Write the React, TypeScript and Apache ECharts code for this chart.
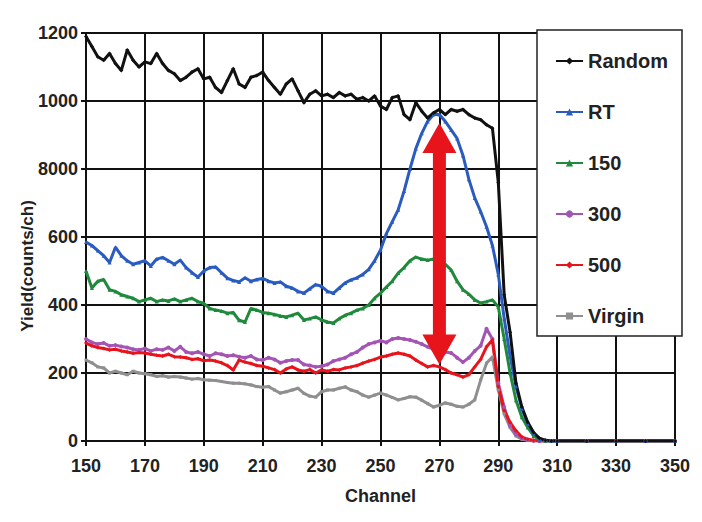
import React, { useEffect, useRef } from "react";
import * as echarts from "echarts";

const channels = [
  150, 152, 154, 156, 158, 160, 162, 164, 166, 168, 170, 172, 174, 176, 178, 180, 182, 184, 186, 188,
  190, 192, 194, 196, 198, 200, 202, 204, 206, 208, 210, 212, 214, 216, 218, 220, 222, 224, 226, 228,
  230, 232, 234, 236, 238, 240, 242, 244, 246, 248, 250, 252, 254, 256, 258, 260, 262, 264, 266, 268,
  270, 272, 274, 276, 278, 280, 282, 284, 286, 288, 290, 292, 294, 296, 298, 300, 302, 304, 306, 308,
  310, 320, 330, 340, 350,
];

const randomYield = [
  1190, 1160, 1130, 1120, 1140, 1110, 1090, 1150, 1120, 1100, 1115, 1110, 1140, 1110, 1090, 1080, 1060, 1070, 1085, 1095,
  1065, 1070, 1040, 1025, 1060, 1095, 1050, 1040, 1070, 1075, 1085, 1060, 1040, 1020, 1050, 1065, 1030, 995, 1020, 1030,
  1015, 1020, 1010, 1025, 1015, 1020, 1005, 1010, 1000, 1015, 985, 975, 1010, 1015, 960, 945, 995, 970, 950, 965,
  975, 960, 975, 970, 975, 960, 950, 945, 930, 920, 760, 430, 320, 170, 100, 55, 25, 8, 2, 0,
  0, 0, 0, 0, 0,
];

const rtYield = [
  585, 575, 560, 545, 525, 570, 545, 530, 520, 525, 530, 515, 535, 540, 530, 520, 532, 510, 495, 482,
  500, 510, 512, 495, 479, 472, 468, 480, 470, 475, 478, 470, 465, 468, 455, 450, 440, 435, 448, 460,
  455, 440, 435, 450, 465, 474, 480, 490, 505, 530, 562, 610, 645, 680, 735, 800, 860, 905, 940, 960,
  960, 940, 915, 890, 840, 770, 715, 675, 630, 575, 490, 360, 250, 160, 95, 50, 22, 6, 2, 0,
  0, 0, 0, 0, 0,
];

const yield150 = [
  500, 450, 470, 475, 445, 440, 430, 425, 420, 410, 415, 420, 410, 415, 412, 418, 410, 415, 420, 410,
  405, 390, 385, 382, 376, 378, 355, 350, 390, 385, 378, 376, 372, 368, 365, 370, 376, 356, 360, 365,
  356, 350, 347, 360, 370, 376, 385, 390, 400, 420, 435, 453, 470, 494, 510, 530, 541, 535, 532, 535,
  530, 520, 503, 470, 445, 432, 415, 406, 410, 415, 394, 300, 200, 120, 70, 40, 15, 4, 1, 0,
  0, 0, 0, 0, 0,
];

const yield300 = [
  300, 290, 285, 288, 280, 282, 278, 275, 270, 268, 272, 265, 270, 268, 275, 265, 277, 262, 258, 262,
  255, 250, 258, 255, 250, 252, 248, 245, 250, 240, 238, 245, 240, 230, 235, 238, 238, 225, 222, 218,
  220, 225, 235, 240, 245, 255, 262, 275, 285, 290, 295, 290, 300, 303, 300, 297, 292, 285, 277, 270,
  265, 262, 259, 245, 232, 245, 265, 280, 330, 300, 170, 100, 45, 20, 8, 3, 1, 0, 0, 0,
  0, 0, 0, 0, 0,
];

const yield500 = [
  288, 280, 275, 272, 268, 270, 265, 262, 258, 260, 259, 255, 252, 250, 255, 248, 247, 245, 240, 242,
  236, 238, 235, 230, 222, 209, 238, 232, 228, 222, 220, 215, 210, 200, 212, 218, 209, 205, 210, 200,
  209, 205, 210, 209, 215, 218, 222, 229, 235, 240, 247, 250, 255, 259, 255, 250, 238, 228, 218, 222,
  218, 210, 200, 195, 188, 195, 218, 240, 277, 297, 160, 90, 55, 30, 12, 5, 2, 0, 0, 0,
  0, 0, 0, 0, 0,
];

const virginYield = [
  238, 230, 218, 215, 200, 205, 200, 195, 205, 200, 198, 195, 190, 192, 188, 190, 188, 185, 182, 184,
  180, 179, 178, 175, 172, 170, 170, 168, 165, 160, 158, 160, 150, 141, 145, 150, 155, 140, 132, 129,
  145, 150, 150, 155, 159, 150, 145, 135, 129, 135, 141, 135, 128, 121, 125, 130, 129, 120, 110, 100,
  105, 112, 108, 102, 100, 108, 121, 179, 229, 247, 150, 80, 40, 15, 5, 2, 0, 0, 0, 0,
  0, 0, 0, 0, 0,
];

const xTicks = [150, 170, 190, 210, 230, 250, 270, 290, 310, 330, 350];
const yTickLabels = ["0", "200", "400", "600", "8000", "1000", "1200"];

const arrowChannel = [270];
const arrowTop = [935];
const arrowBottom = [225];

const seriesNames = ["Random", "RT", "150", "300", "500", "Virgin"];
const seriesColors = ["#111111", "#2a5cc0", "#1f8a3c", "#a455b4", "#e8141c", "#8f8f8f"];
const seriesSymbols = ["diamond", "triangle", "triangle", "circle", "diamond", "rect"];
const seriesValues = [randomYield, rtYield, yield150, yield300, yield500, virginYield];
const drawOrder = [5, 3, 4, 2, 1, 0];

const FONT = "'Liberation Sans', Arial, sans-serif";

export default function App() {
  const ref = useRef<HTMLDivElement>(null);

  useEffect(() => {
    if (!ref.current) return;
    const chart = echarts.init(ref.current, undefined, { renderer: "svg" });

    const lineSeries = drawOrder.map((i) => ({
      name: seriesNames[i],
      type: "line",
      data: channels.map((c, k) => [c, seriesValues[i][k]]),
      showSymbol: true,
      symbol: seriesSymbols[i],
      symbolSize: i === 5 ? 3 : 4,
      color: seriesColors[i],
      lineStyle: { width: 3, color: seriesColors[i] },
      itemStyle: { color: seriesColors[i] },
      z: 3,
    }));

    const arrowSeries = {
      type: "custom",
      silent: true,
      z: 8,
      data: arrowChannel.map((c, k) => [c, arrowTop[k], arrowBottom[k]]),
      renderItem: (params: any, api: any) => {
        const top = api.coord([api.value(0), api.value(1)]);
        const bot = api.coord([api.value(0), api.value(2)]);
        const cx = top[0];
        const headH = 30;
        const headW = 17;
        const shaftW = 6.5;
        const pts = [
          [cx, top[1]],
          [cx + headW, top[1] + headH],
          [cx + shaftW, top[1] + headH],
          [cx + shaftW, bot[1] - headH],
          [cx + headW, bot[1] - headH],
          [cx, bot[1]],
          [cx - headW, bot[1] - headH],
          [cx - shaftW, bot[1] - headH],
          [cx - shaftW, top[1] + headH],
          [cx - headW, top[1] + headH],
        ];
        return {
          type: "polygon",
          shape: { points: pts },
          style: { fill: "#e8141c" },
        };
      },
    };

    chart.setOption({
      animation: false,
      backgroundColor: "#ffffff",
      grid: { left: 86, right: 27, top: 33, bottom: 81, containLabel: false },
      xAxis: {
        type: "value",
        min: 150,
        max: 350,
        interval: 20,
        name: "Channel",
        nameLocation: "middle",
        nameGap: 46,
        nameTextStyle: { fontFamily: FONT, fontSize: 18, fontWeight: "bold", color: "#222" },
        axisLine: { show: true, onZero: false, lineStyle: { color: "#111", width: 2 } },
        axisTick: { show: true, inside: false, length: 5, lineStyle: { color: "#111", width: 2 } },
        axisLabel: {
          margin: 16,
          fontFamily: FONT,
          fontSize: 18,
          fontWeight: "bold",
          color: "#222",
          formatter: (v: number) => (xTicks.includes(v) ? String(v) : ""),
        },
        splitLine: { show: true, lineStyle: { color: "#111", width: 2 } },
      },
      yAxis: {
        type: "value",
        min: 0,
        max: 1200,
        interval: 200,
        axisLine: { show: true, lineStyle: { color: "#111", width: 2 } },
        axisTick: { show: true, inside: false, length: 5, lineStyle: { color: "#111", width: 2 } },
        axisLabel: {
          margin: 8,
          fontFamily: FONT,
          fontSize: 18,
          fontWeight: "bold",
          color: "#222",
          formatter: (v: number) => yTickLabels[Math.round(v / 200)] ?? "",
        },
        splitLine: { show: true, lineStyle: { color: "#111", width: 2 } },
      },
      legend: {
        data: seriesNames,
        orient: "vertical",
        left: 537,
        top: 30,
        backgroundColor: "#ffffff",
        borderColor: "#222",
        borderWidth: 1.5,
        borderRadius: 0,
        padding: [20, 14, 9, 18],
        itemGap: 29,
        itemWidth: 27,
        itemHeight: 9,
        z: 20,
        textStyle: {
          fontFamily: FONT,
          fontSize: 20,
          fontWeight: "bold",
          color: "#222",
          lineHeight: 22,
        },
      },
      graphic: [
        {
          type: "rect",
          shape: { x: 6, y: 3, width: 691, height: 515 },
          style: { fill: "none", stroke: "#444", lineWidth: 2 },
          silent: true,
          z: 30,
        },
        {
          type: "text",
          x: 27,
          y: 266,
          rotation: Math.PI / 2,
          style: {
            text: "Yield(counts/ch)",
            fontFamily: FONT,
            fontSize: 17,
            fontWeight: "bold",
            fill: "#222",
            textAlign: "center",
            textVerticalAlign: "middle",
          },
          silent: true,
        },
      ],
      series: [...lineSeries, arrowSeries],
    });

    return () => chart.dispose();
  }, []);

  return <div ref={ref} style={{ width: 702, height: 522, margin: -8 }} />;
}
